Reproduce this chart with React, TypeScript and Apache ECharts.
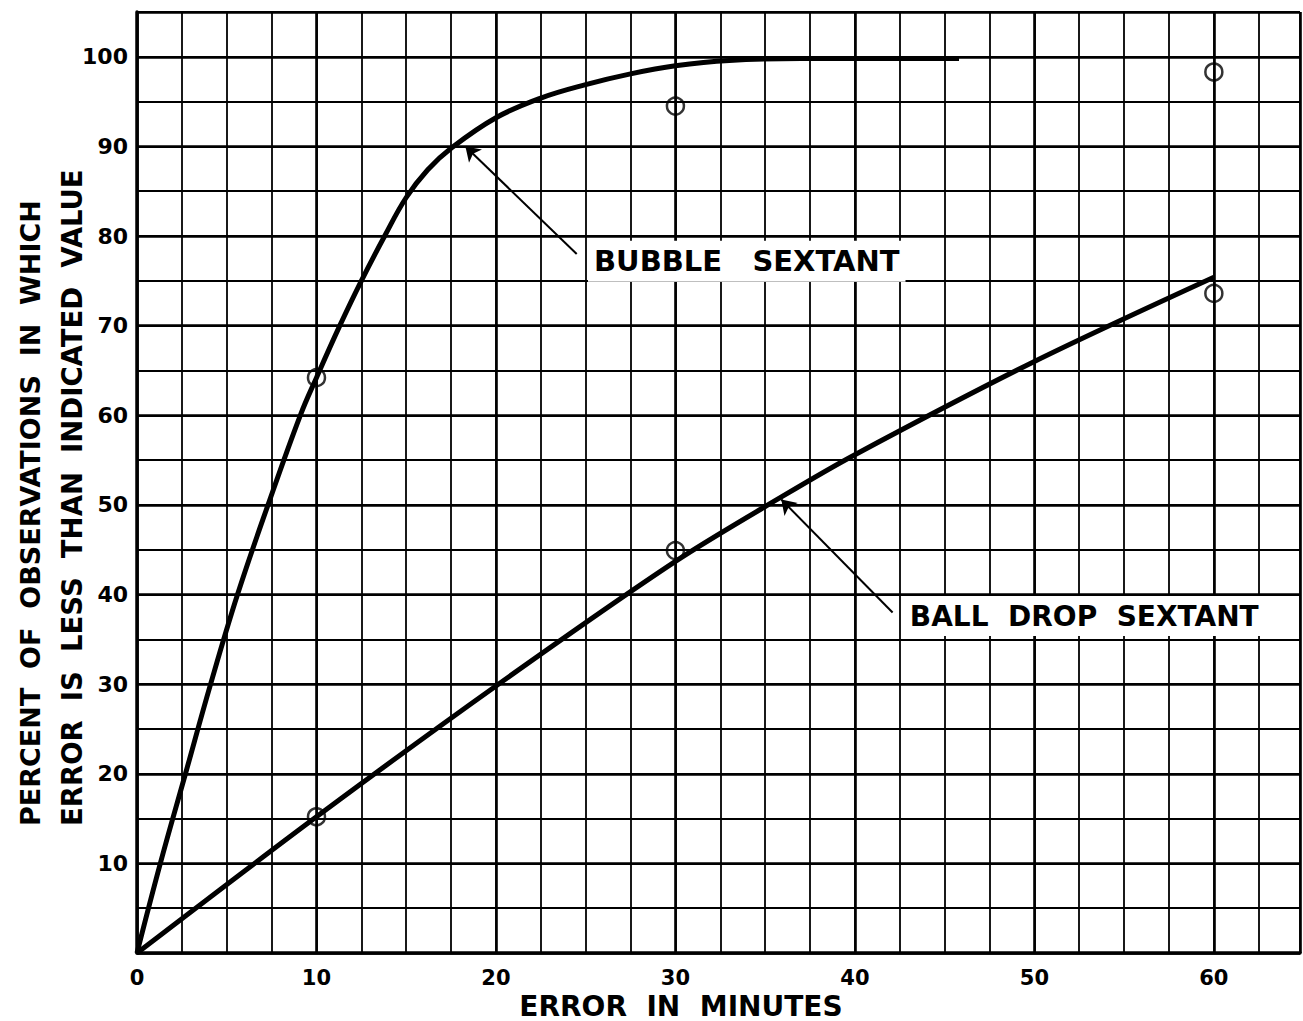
import React, { useEffect, useRef } from "react";
import * as echarts from "echarts";

// ---- data ----
const bubbleCurve: number[][] = [
  [0, 0], [1.3, 10], [2.7, 20], [4.1, 30], [5.6, 40], [7.3, 50],
  [9.1, 60], [10, 64.2], [11.3, 70], [12.5, 75], [13.8, 80],
  [15, 84.3], [16.2, 87.4], [17.5, 89.8], [20, 93.2], [22.5, 95.4],
  [25, 96.9], [27.5, 98.1], [30, 99.0], [33, 99.6], [37, 99.8], [45.8, 99.8],
];
const ballDropCurve: number[][] = [
  [0, 0], [10, 15.2], [20, 29.8], [30, 43.7],
  [36, 51], [40, 55.6], [50, 66], [60, 75.4],
];
const bubbleObserved: number[][] = [[10, 64.2], [30, 94.5], [60, 98.3]];
const ballDropObserved: number[][] = [[10, 15.2], [30, 44.9], [60, 73.6]];

const bubbleArrow: number[][] = [[24.5, 78], [18.3, 90]];
const ballDropArrow: number[][] = [[42.1, 38], [35.9, 50.6]];
const bubbleLabel = { name: "BUBBLE   SEXTANT", at: [25.1, 77.2] };
const ballDropLabel = { name: "BALL  DROP  SEXTANT", at: [42.7, 37.6] };

const xTitle = "ERROR  IN  MINUTES";
const yTitleLines = ["PERCENT  OF  OBSERVATIONS  IN  WHICH", "ERROR  IS  LESS  THAN  INDICATED  VALUE"];
const xLabelValues = [0, 10, 20, 30, 40, 50, 60];
const yLabelValues = [10, 20, 30, 40, 50, 60, 70, 80, 90, 100];

const FONT = "'DejaVu Sans', 'Liberation Sans', sans-serif";

export default function App() {
  const ref = useRef<HTMLDivElement>(null);
  useEffect(() => {
    if (!ref.current) return;
    const chart = echarts.init(ref.current, undefined, { renderer: "svg" });
    const black = "#000";
    const option: any = {
      animation: false,
      backgroundColor: "#fff",
      grid: { left: 137, top: 12, right: 0, bottom: 68, containLabel: false },
      xAxis: [
        {
          type: "value", min: 0, max: 64.8, interval: 10,
          axisLine: { show: true, onZero: false, lineStyle: { color: black, width: 3.5 } },
          axisTick: { show: false },
          axisLabel: {
            color: black, fontSize: 21, fontWeight: "bold", fontFamily: FONT, margin: 14,
            formatter: (v: number) => (xLabelValues.includes(v) ? String(v) : ""),
          },
          splitLine: { show: true, lineStyle: { color: black, width: 2.6 } },
        },
        {
          type: "value", min: 0, max: 64.8, interval: 2.5, position: "top",
          axisLine: { show: false }, axisTick: { show: false }, axisLabel: { show: false },
          splitLine: { show: true, lineStyle: { color: black, width: 1.8 } },
        },
      ],
      yAxis: [
        {
          type: "value", min: 0, max: 105, interval: 10,
          axisLine: { show: true, onZero: false, lineStyle: { color: black, width: 3.5 } },
          axisTick: { show: false },
          axisLabel: {
            color: black, fontSize: 22, fontWeight: "bold", fontFamily: FONT, margin: 9,
            formatter: (v: number) => (yLabelValues.includes(v) ? String(v) : ""),
          },
          splitLine: { show: true, lineStyle: { color: black, width: 2.6 } },
        },
        {
          type: "value", min: 0, max: 105, interval: 5, position: "right",
          axisLine: { show: false }, axisTick: { show: false }, axisLabel: { show: false },
          splitLine: { show: true, lineStyle: { color: black, width: 1.8 } },
        },
      ],
      graphic: [
        {
          type: "text", x: 30, y: 826, rotation: Math.PI / 2,
          style: {
            text: yTitleLines[0], fill: black, fontSize: 27, fontWeight: "bold",
            fontFamily: FONT, align: "left", verticalAlign: "middle",
          },
        },
        {
          type: "text", x: 72, y: 826, rotation: Math.PI / 2,
          style: {
            text: yTitleLines[1], fill: black, fontSize: 27.5, fontWeight: "bold",
            fontFamily: FONT, align: "left", verticalAlign: "middle",
          },
        },
        {
          type: "text", x: 681, y: 1006,
          style: {
            text: xTitle, fill: black, fontSize: 28, fontWeight: "bold",
            fontFamily: FONT, align: "center", verticalAlign: "middle",
          },
        },
      ],
      series: [
        {
          name: "BUBBLE SEXTANT", type: "line", data: bubbleCurve, showSymbol: false,
          smooth: 0.4,
          lineStyle: { color: black, width: 5 }, z: 3,
          markLine: {
            silent: true, symbol: ["none", "arrow"], symbolSize: 14,
            lineStyle: { color: black, width: 2, type: "solid" },
            label: { show: false },
            data: [[{ coord: bubbleArrow[0] }, { coord: bubbleArrow[1] }]],
          },
        },
        {
          name: "BALL DROP SEXTANT", type: "line", data: ballDropCurve, showSymbol: false,
          smooth: 0.3,
          lineStyle: { color: black, width: 5 }, z: 3,
          markLine: {
            silent: true, symbol: ["none", "arrow"], symbolSize: 14,
            lineStyle: { color: black, width: 2, type: "solid" },
            label: { show: false },
            data: [[{ coord: ballDropArrow[0] }, { coord: ballDropArrow[1] }]],
          },
        },
        {
          type: "scatter", data: bubbleObserved, symbol: "circle", symbolSize: 17,
          itemStyle: { color: "rgba(255,255,255,0)", borderColor: black, borderWidth: 2.5 }, z: 4,
        },
        {
          type: "scatter", data: ballDropObserved, symbol: "circle", symbolSize: 17,
          itemStyle: { color: "rgba(255,255,255,0)", borderColor: black, borderWidth: 2.5 }, z: 4,
        },
        {
          type: "scatter", symbolSize: 1, itemStyle: { color: "rgba(0,0,0,0)" }, z: 10,
          data: [
            { name: bubbleLabel.name, value: bubbleLabel.at, label: { fontSize: 29 } },
            { name: ballDropLabel.name, value: ballDropLabel.at },
          ],
          label: {
            show: true, position: "right", distance: 0, formatter: "{b}",
            backgroundColor: "#fff", padding: [7, 6, 5, 6],
            color: "#000", opacity: 1, textBorderWidth: 0,
            fontSize: 28, fontWeight: "bold", fontFamily: FONT,
          },
          emphasis: { disabled: true },
        },
      ],
    };
    chart.setOption(option);
    return () => chart.dispose();
  }, []);
  return (
    <div
      ref={ref}
      style={{ position: "fixed", left: 0, top: 0, width: 1303, height: 1021, background: "#fff" }}
    />
  );
}
